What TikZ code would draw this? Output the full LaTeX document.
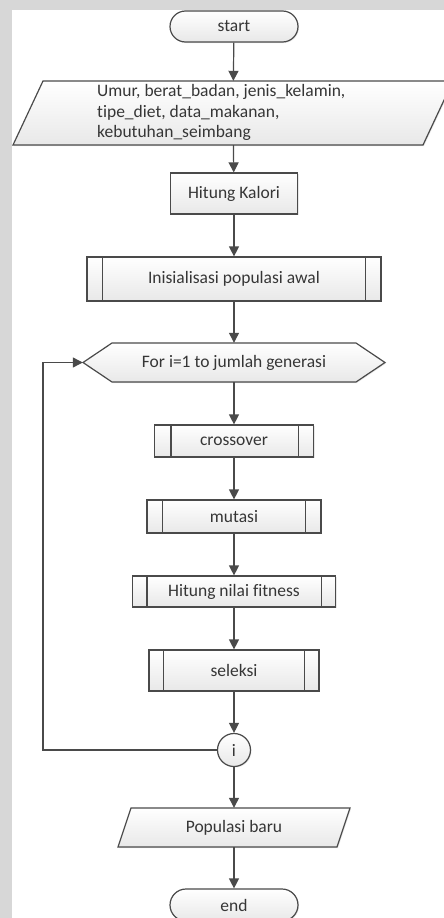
\documentclass[tikz,border=0pt]{standalone}
\usepackage{fontspec}
\setmainfont[Ligatures=NoCommon]{Carlito}
\usetikzlibrary{arrows.meta,shadows}
\definecolor{ink}{HTML}{4A4A4A}
\definecolor{txt}{HTML}{363636}
\definecolor{margin}{HTML}{D7D7D7}

\begin{document}
\begin{tikzpicture}[x=1pt,y=-1pt,
  font=\fontsize{17.5}{20.5}\selectfont, text=txt,
  line/.style={draw=ink, line width=1.2pt},
  flow/.style={line, -{Triangle[width=10pt,length=10pt]}},
  boxfill/.style={top color=white, bottom color=black!9,
    drop shadow={shadow xshift=1pt, shadow yshift=-1pt, opacity=0.18}},
  proc/.style={line, boxfill, rectangle, inner sep=0pt},
  frame/.style={inner sep=0pt, rectangle},
  ]
\useasboundingbox (0,0) rectangle (444,918);
\clip (0,0) rectangle (444,918);

% page background and grey margins
\fill[white] (0,0) rectangle (444,918);
\fill[margin] (0,0) rectangle (444,10);
\fill[margin] (0,0) rectangle (12,918);

% terminals
\node[proc, rounded corners=15.5pt, minimum width=128pt, minimum height=31pt] (start) at (234,26.5) {start};
\node[proc, rounded corners=16pt, minimum width=128pt, minimum height=32pt] (end) at (234,905) {end};

% input data
\path[line, boxfill] (13,145) -- (43,81) -- (453,81) -- (423,145) -- cycle;
\node[frame, minimum width=440pt, minimum height=64pt] (inp) at (233,113) {};
\node[anchor=west, align=left, inner sep=0pt] (inptext) at (97,112.5)
  {Umur, berat\_badan, jenis\_kelamin,\\ tipe\_diet, data\_makanan,\\ kebutuhan\_seimbang};

% process
\node[proc, minimum width=127pt, minimum height=41pt] (kal) at (234,193.5) {Hitung Kalori};

% predefined processes
\node[proc, minimum width=294pt, minimum height=44pt] (init) at (234,279) {Inisialisasi populasi awal};
\draw[line] ([xshift=16pt]init.north west) -- ([xshift=16pt]init.south west);
\draw[line] ([xshift=-16pt]init.north east) -- ([xshift=-16pt]init.south east);

% loop header
\path[line, boxfill] (83,362.5) -- (112,343) -- (356,343) -- (385,362.5) -- (356,382) -- (112,382) -- cycle;
\node[frame, minimum width=302pt, minimum height=39pt] (for) at (234,362.5) {For i=1 to jumlah generasi};

\node[proc, minimum width=159pt, minimum height=32pt] (cross) at (234,441) {crossover};
\draw[line] ([xshift=17pt]cross.north west) -- ([xshift=17pt]cross.south west);
\draw[line] ([xshift=-16pt]cross.north east) -- ([xshift=-16pt]cross.south east);

\node[proc, minimum width=174pt, minimum height=33pt] (mut) at (234,516.5) {mutasi};
\draw[line] ([xshift=16pt]mut.north west) -- ([xshift=16pt]mut.south west);
\draw[line] ([xshift=-16pt]mut.north east) -- ([xshift=-16pt]mut.south east);

\node[proc, minimum width=203pt, minimum height=31pt] (fit) at (234,591.5) {Hitung nilai fitness};
\draw[line] ([xshift=15pt]fit.north west) -- ([xshift=15pt]fit.south west);
\draw[line] ([xshift=-15pt]fit.north east) -- ([xshift=-15pt]fit.south east);

\node[proc, minimum width=170pt, minimum height=41pt] (sel) at (234,670.5) {seleksi};
\draw[line] ([xshift=15pt]sel.north west) -- ([xshift=15pt]sel.south west);
\draw[line] ([xshift=-15pt]sel.north east) -- ([xshift=-15pt]sel.south east);

% loop connector
\node[proc, circle, minimum size=33pt] (conn) at (234,750) {i};

% output
\path[line, boxfill] (118,847) -- (131,808) -- (350,808) -- (337,847) -- cycle;
\node[frame, minimum width=232pt, minimum height=39pt] (out) at (234,827.5) {Populasi baru};

% connectors
\draw[flow] (start) -- (inp);
\draw[flow] (inp) -- (kal);
\draw[flow] (kal) -- (init);
\draw[flow] (init) -- (for);
\draw[flow] (for) -- (cross);
\draw[flow] (cross) -- (mut);
\draw[flow] (mut) -- (fit);
\draw[flow] (fit) -- (sel);
\draw[flow] (sel) -- (conn);
\draw[flow] (conn) -- (out);
\draw[flow] (out) -- (end);
\coordinate (back) at (43,750);
\draw[flow] (conn.west) -- (back) |- (for.west);
\end{tikzpicture}
\end{document}
